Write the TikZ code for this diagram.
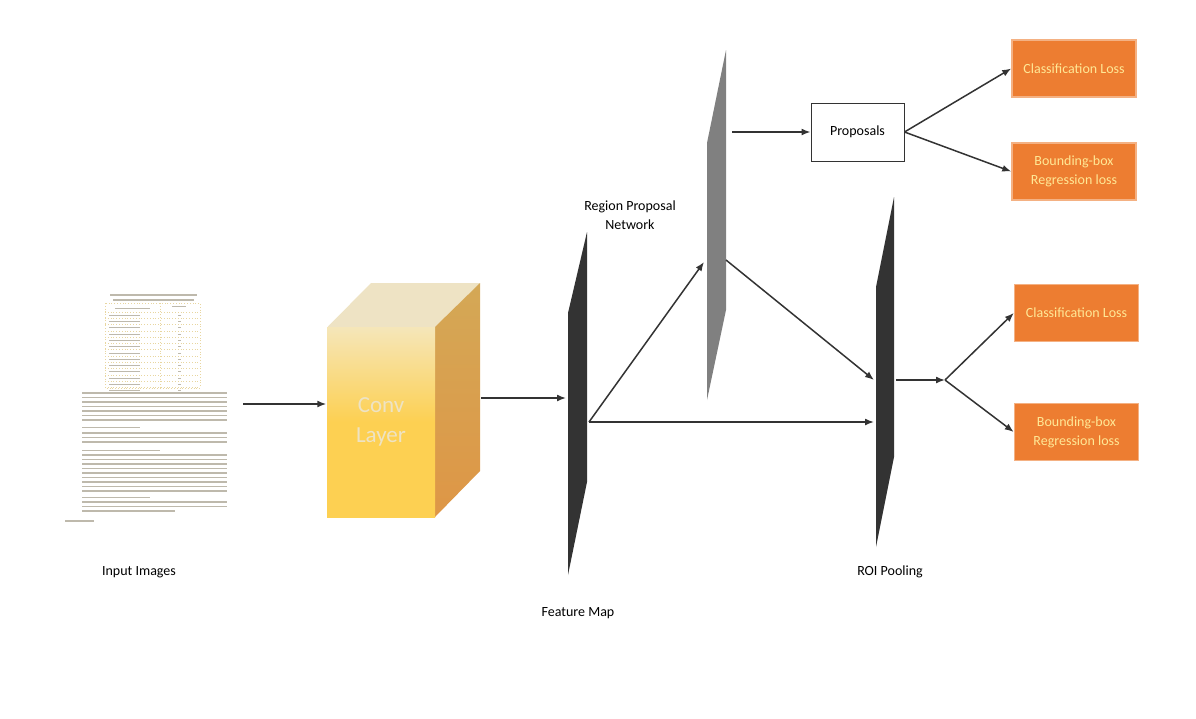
\documentclass[tikz,border=0pt]{standalone}
\usepackage{fontspec}
\setmainfont{Carlito}
\usepackage{tikz}
\usetikzlibrary{arrows.meta}

\definecolor{sheetdark}{RGB}{51,51,51}
\definecolor{sheetgray}{RGB}{128,128,128}
\definecolor{lossorange}{RGB}{237,125,49}
\definecolor{lossedge}{RGB}{244,177,131}
\definecolor{losstext}{RGB}{255,232,150}
\definecolor{cubegold}{RGB}{253,208,82}
\definecolor{cubepale}{RGB}{245,230,185}
\definecolor{cubetop}{RGB}{238,227,196}
\definecolor{cubeside}{RGB}{212,168,86}
\definecolor{cubesidelow}{RGB}{222,150,70}
\definecolor{doctext}{RGB}{190,185,172}
\definecolor{docrule}{RGB}{232,214,160}

\tikzset{
  loss/.style={rectangle, draw=lossedge, fill=lossorange, text=losstext, minimum width=124, minimum height=57, align=center, font=\fontsize{14}{19}\selectfont},
  lbl/.style={align=center, font=\fontsize{14}{19}\selectfont},
  docline/.style={doctext, line width=1.3},
  tabline/.style={docrule, line width=0.8, dotted},
}

\begin{document}
\begin{tikzpicture}[x=1pt, y=-1pt, >={Latex[length=9pt,width=7pt]}, line width=1.5, color=sheetdark]
\useasboundingbox (0,0) rectangle (1196,718);

% input image (page)
\draw[docline] (110,295) -- (197,295);
\draw[docline] (113,300) -- (194,300);
\draw[tabline] (105,303) rectangle (200,388);
\draw[tabline] (160,303) -- (160,388);
\draw[docline, line width=0.9] (115,308) -- (150,308);
\draw[docline, line width=0.9] (172,306) -- (186,306);
\foreach \y in {312,318.3,...,388} {
  \draw[tabline] (105,\y) -- (200,\y);
  \draw[docline, line width=0.9] (109,\y+3.2) -- (140,\y+3.2);
  \draw[docline, line width=0.9] (178,\y+3.2) -- (181,\y+3.2);
}
\foreach \y in {393,397.5,...,424} \draw[docline] (82,\y) -- (227,\y);
\draw[docline] (82,427.5) -- (140,427.5);
\foreach \y in {433,437.5,...,446} \draw[docline] (82,\y) -- (227,\y);
\draw[docline] (82,450.5) -- (160,450.5);
\foreach \y in {455,459.5,...,493} \draw[docline] (82,\y) -- (227,\y);
\draw[docline] (82,497.5) -- (150,497.5);
\foreach \y in {502,506.5} \draw[docline] (82,\y) -- (227,\y);
\draw[docline] (82,511) -- (175,511);
\draw[docline] (65,521) -- (94,521);
\coordinate (imgout) at (243,404);

% conv layer cube
\fill[cubetop] (327,327.5) -- (371,283) -- (480,283) -- (435,327.5) -- cycle;
\shade[top color=cubeside, bottom color=cubesidelow] (435,327) -- (480,283) -- (480,471) -- (435,517) -- cycle;
\node[shade, top color=cubepale, bottom color=cubegold, middle color=cubegold, minimum width=108, minimum height=190, inner sep=0, text=cubetop, align=center, font=\fontsize{23}{30}\selectfont] (conv) at (381,422) {Conv\\Layer};
\coordinate (convout) at (481,398);

% feature map
\fill[sheetdark] (587,232) -- (587,482) -- (568,575) -- (568,313) -- cycle;
\coordinate (fmin) at (566,398);
\coordinate (fmout) at (589,422);

% region proposal network
\fill[sheetgray] (726,50) -- (726,310) -- (707,400) -- (707,143) -- cycle;
\coordinate (rpnin) at (704,262);
\coordinate (rpnout1) at (732,132);
\coordinate (rpnout2) at (726,260);

% roi pooling
\fill[sheetdark] (894,197) -- (894,457) -- (876,547) -- (876,287) -- cycle;
\coordinate (roiin1) at (874,380);
\coordinate (roiin2) at (874,422);
\coordinate (roiout) at (896,380);
\coordinate (split) at (945,380);

\node[draw, fill=white, minimum width=93, minimum height=58, line width=1, font=\fontsize{14}{19}\selectfont, text=black] (prop) at (857.5,132) {Proposals};

\node[loss] (c1) at (1074,68.5) {Classification Loss};
\node[loss] (b1) at (1074,171.5) {Bounding-box\\Regression loss};
\node[loss] (c2) at (1076.5,313) {Classification Loss};
\node[loss] (b2) at (1076.5,432) {Bounding-box\\Regression loss};

\node[lbl, text=black] (inlbl) at (139,572) {Input Images};
\node[lbl, text=black] (fmlbl) at (578,613) {Feature Map};
\node[lbl, text=black] (rpnlbl) at (630,215) {Region Proposal\\Network};
\node[lbl, text=black] (roilbl) at (890,572) {ROI Pooling};

\draw[->] (imgout) -- (conv.west |- imgout);
\draw[->] (convout) -- (fmin);
\draw[->] (fmout) -- (rpnin);
\draw[->] (fmout) -- (roiin2);
\draw[->] (rpnout1) -- (prop);
\draw[->] (rpnout2) -- (roiin1);
\draw[->] (prop.east) -- (c1.west);
\draw[->] (prop.east) -- (b1.west);
\draw[->] (roiout) -- (split);
\draw[->] (split) -- (c2.west);
\draw[->] (split) -- (b2.west);
\end{tikzpicture}
\end{document}
